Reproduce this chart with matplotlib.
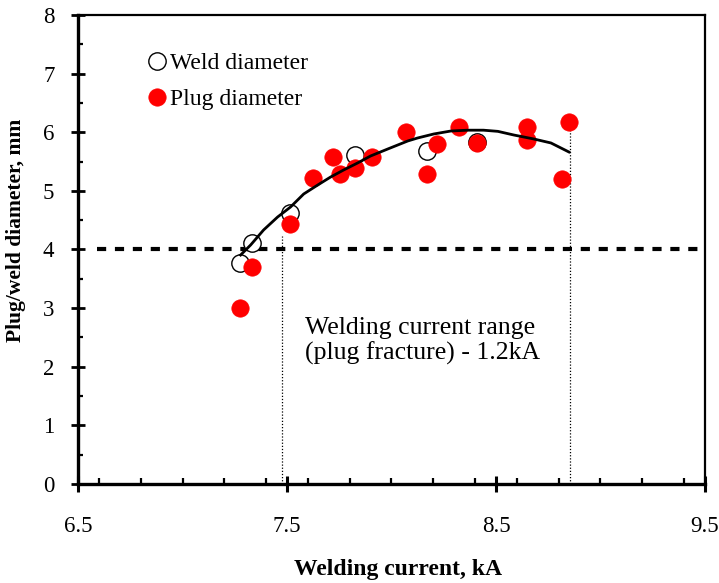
import numpy as np
import matplotlib
matplotlib.use("Agg")
import matplotlib.pyplot as plt
from matplotlib.ticker import MultipleLocator
from matplotlib.lines import Line2D

plt.rcParams['font.family'] = ['Liberation Serif', 'DejaVu Serif']

# data
weld_current = [7.275, 7.333, 7.514, 7.825, 8.17, 8.41]
weld_diameter = [3.77, 4.11, 4.62, 5.61, 5.68, 5.83]

plug_current = [7.275, 7.333, 7.514, 7.624, 7.72, 7.754, 7.825, 7.907, 8.07,
                8.218, 8.17, 8.323, 8.41, 8.65, 8.65, 8.817, 8.851]
plug_diameter = [3.00, 3.70, 4.43, 5.22, 5.58, 5.29, 5.39, 5.58, 6.01,
                 5.80, 5.29, 6.09, 5.82, 6.09, 5.87, 5.20, 6.17]

# trend line (polynomial fit in the original)
trend_current = [7.278, 7.326, 7.388, 7.455, 7.517, 7.580, 7.647, 7.709, 7.771,
                 7.838, 7.900, 7.982, 8.078, 8.125, 8.202, 8.284, 8.365, 8.440,
                 8.509, 8.585, 8.681, 8.763, 8.849]
trend_diameter = [3.906, 4.077, 4.333, 4.554, 4.725, 4.947, 5.100, 5.237, 5.356,
                  5.476, 5.595, 5.714, 5.851, 5.902, 5.970, 6.021, 6.035, 6.035,
                  6.015, 5.953, 5.885, 5.817, 5.663]

min_diameter = 4.0
range_low, range_low_top = 7.475, 4.23
range_high, range_high_top = 8.856, 6.17

fig = plt.figure(figsize=(7.19, 5.83), dpi=100)
ax = fig.add_axes([0.1085, 0.1698, 0.872, 0.8045])

ax.plot(weld_current, weld_diameter, 'o', ms=12.5, mfc='white', mec='black',
        mew=1.0, zorder=3)
ax.plot(plug_current, plug_diameter, 'o', ms=12.5, mfc='#ff0000', mec='#ff0000',
        mew=0.5, zorder=4)
ax.plot(trend_current, trend_diameter, '-', color='black', lw=2.0, zorder=5,
        solid_joinstyle='round')

ax.plot([6.59, 9.5], [min_diameter, min_diameter], color='black', lw=3,
        linestyle=(0, (2.2, 2.1)), zorder=2)
ax.plot([range_low, range_low], [0, range_low_top], color='black', lw=0.9,
        linestyle=(0, (1, 1.5)), zorder=2)
ax.plot([range_high, range_high], [0, range_high_top], color='black', lw=0.9,
        linestyle=(0, (1, 1.5)), zorder=2)

ax.text(7.586, 2.85, "Welding current range\n(plug fracture) - 1.2kA",
        fontsize=18.5, va='top', ha='left', linespacing=1.15)

ax.set_xlim(6.5, 9.5)
ax.set_ylim(0, 8)
ax.xaxis.set_minor_locator(MultipleLocator(0.2))
ax.yaxis.set_major_locator(MultipleLocator(1.0))
ax.yaxis.set_minor_locator(MultipleLocator(0.5))
ax.set_xticks([6.5, 7.5, 8.5, 9.5])
ax.set_xticklabels(['6.5', '7.5', '8.5', '9.5'])

ax.tick_params(axis='x', which='major', direction='inout', length=11.5,
               width=2.2, labelsize=16.5, pad=17)
ax.tick_params(axis='x', which='minor', direction='in', length=4.3, width=1.6)
ax.tick_params(axis='y', which='major', direction='inout', length=10,
               width=2.0, labelsize=16.5, pad=12)
ax.tick_params(axis='y', which='minor', direction='in', length=3.6, width=1.6)

for side in ['left', 'bottom']:
    ax.spines[side].set_linewidth(2.4)
for side in ['top', 'right']:
    ax.spines[side].set_linewidth(1.6)

ax.set_xlabel("Welding current, kA", fontsize=17, fontweight='bold')
ax.xaxis.set_label_coords(0.51, -0.16)
ax.set_ylabel("Plug/weld diameter, mm", fontsize=15.5, fontweight='bold')
ax.yaxis.set_label_coords(-0.083, 0.54)

handles = [
    Line2D([], [], ls='none', marker='o', ms=12.5, mfc='white', mec='black', mew=1.0),
    Line2D([], [], ls='none', marker='o', ms=12.5, mfc='#ff0000', mec='#ff0000', mew=0.5),
]
ax.legend(handles, ["Weld diameter", "Plug diameter"], loc='upper left',
          bbox_to_anchor=(0.111, 0.92), frameon=False, fontsize=17,
          handlelength=0.8, handletextpad=0.15, labelspacing=0.62,
          borderpad=0, borderaxespad=0)

fig.savefig("out.png", dpi=100)
